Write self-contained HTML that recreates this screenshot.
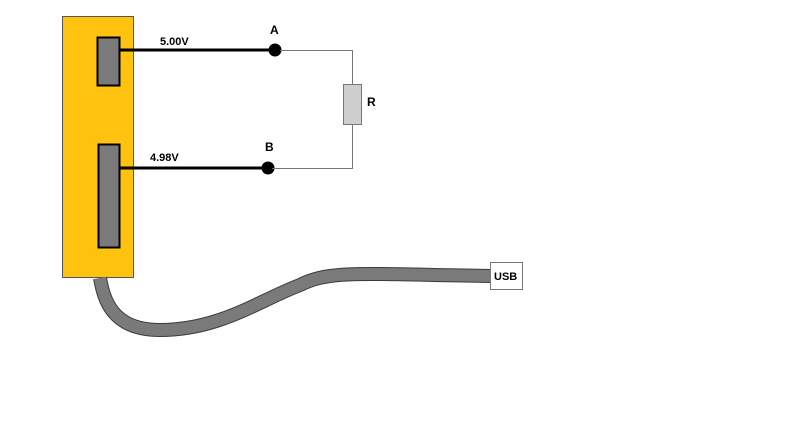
<!DOCTYPE html>
<html><head><meta charset="utf-8"><style>
html,body{margin:0;padding:0;background:#fff;}
svg{display:block;}
text{font-family:"Liberation Sans",Arial,sans-serif;font-weight:bold;fill:#000;}
</style></head><body>
<svg width="800" height="436" viewBox="0 0 800 436" xmlns="http://www.w3.org/2000/svg">
<rect x="62.5" y="16.5" width="71" height="261" fill="#ffc20e" stroke="#555" stroke-width="1"/>
<rect x="97.5" y="37.5" width="22" height="48" fill="#7a7a7a" stroke="#000" stroke-width="2"/>
<rect x="98.5" y="144.5" width="21" height="103" fill="#7a7a7a" stroke="#000" stroke-width="2"/>
<path d="M100,278 C104,300 112,330 160,330 C220,330 260,300 300,285 C330,270 360,274 490,276" fill="none" stroke="#3a3a3a" stroke-width="14"/>
<path d="M100,278 C104,300 112,330 160,330 C220,330 260,300 300,285 C330,270 360,274 490,276" fill="none" stroke="#7a7a7a" stroke-width="12"/>
<line x1="119" y1="50" x2="275" y2="50" stroke="#000" stroke-width="3"/>
<line x1="119" y1="168" x2="268" y2="168" stroke="#000" stroke-width="3"/>
<circle cx="275" cy="50" r="6.5" fill="#000"/>
<circle cx="268" cy="168" r="6.5" fill="#000"/>
<path d="M280,50.5 H352.5 V84 M352.5,124 V168.5 H272" fill="none" stroke="#777" stroke-width="1"/>
<rect x="343.5" y="84.5" width="18" height="40" fill="#cfcfcf" stroke="#777" stroke-width="1"/>
<text x="160" y="45" font-size="11">5.00V</text>
<text x="150" y="161" font-size="11">4.98V</text>
<text x="270" y="34" font-size="12">A</text>
<text x="265" y="151" font-size="12">B</text>
<text x="367" y="106" font-size="12">R</text>
<rect x="490.5" y="262.5" width="32" height="27" fill="#fff" stroke="#777" stroke-width="1"/>
<text x="494" y="280" font-size="11">USB</text>
</svg>
</body></html>
